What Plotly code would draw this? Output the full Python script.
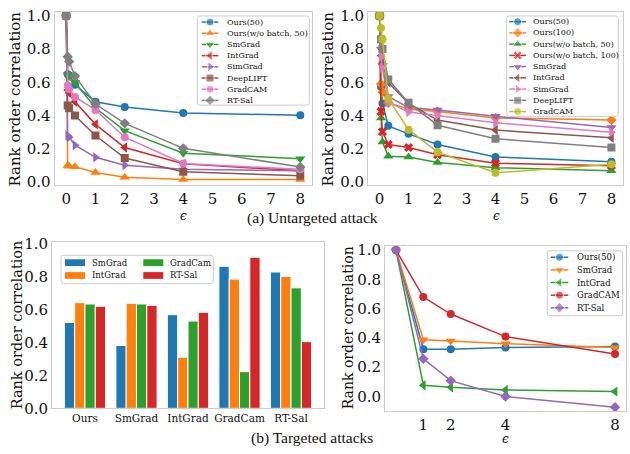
import plotly.graph_objects as go

W, H = 630, 454

# ---------------- data ----------------
eps_untargeted = [0, 0.05, 0.1, 0.3, 1, 2, 4, 8]

# (a) left panel
a1_names = ["Ours(50)", "Ours(w/o batch, 50)", "SmGrad", "IntGrad", "SimGrad", "DeepLIFT", "GradCAM", "RT-Sal"]
a1_ours50 = [1.0, 0.648, 0.64, 0.585, 0.483, 0.452, 0.415, 0.402]
a1_ours_wob50 = [1.0, 0.10, 0.095, 0.092, 0.058, 0.029, 0.016, 0.016]
a1_smgrad = [1.0, 0.645, 0.635, 0.60, 0.445, 0.309, 0.174, 0.141]
a1_intgrad = [1.0, 0.554, 0.535, 0.483, 0.347, 0.208, 0.11, 0.068]
a1_simgrad = [1.0, 0.28, 0.27, 0.222, 0.149, 0.102, 0.077, 0.068]
a1_deeplift = [1.0, 0.46, 0.444, 0.40, 0.28, 0.145, 0.062, 0.039]
a1_gradcam = [1.0, 0.58, 0.56, 0.512, 0.434, 0.27, 0.112, 0.077]
a1_rtsal = [1.0, 0.753, 0.724, 0.637, 0.469, 0.353, 0.203, 0.091]

# (a) right panel
a2_names = ["Ours(50)", "Ours(100)", "Ours(w/o batch, 50)", "Ours(w/o batch, 100)", "SmGrad",
            "IntGrad", "SimGrad", "DeepLIFT", "GradCAM"]
a2_ours50 = [1.0, 0.573, 0.473, 0.338, 0.29, 0.226, 0.151, 0.122]
a2_ours100 = [1.0, 0.589, 0.541, 0.477, 0.438, 0.425, 0.386, 0.373]
a2_ours_wob50 = [1.0, 0.386, 0.241, 0.155, 0.151, 0.118, 0.087, 0.068]
a2_ours_wob100 = [1.0, 0.425, 0.303, 0.226, 0.208, 0.164, 0.114, 0.098]
a2_smgrad = [1.0, 0.80, 0.70, 0.515, 0.448, 0.434, 0.396, 0.328]
a2_intgrad = [1.0, 0.76, 0.716, 0.599, 0.473, 0.373, 0.313, 0.266]
a2_simgrad = [1.0, 0.753, 0.686, 0.481, 0.421, 0.40, 0.357, 0.299]
a2_deeplift = [1.0, 0.859, 0.80, 0.616, 0.477, 0.342, 0.261, 0.208]
a2_gradcam = [1.0, 0.926, 0.859, 0.502, 0.315, 0.18, 0.056, 0.107]

# (b) bar panel
bar_groups = ["Ours", "SmGrad", "IntGrad", "GradCam", "RT-Sal"]
bar_names = ["SmGrad", "IntGrad", "GradCam", "RT-Sal"]
bar_smgrad = [0.522, 0.382, 0.569, 0.863, 0.828]
bar_intgrad = [0.642, 0.638, 0.311, 0.785, 0.802]
bar_gradcam = [0.634, 0.634, 0.530, 0.223, 0.732]
bar_rtsal = [0.620, 0.626, 0.583, 0.918, 0.405]

# (b) line panel
eps_targeted = [0, 1, 2, 4, 8]
b_names = ["Ours(50)", "SmGrad", "IntGrad", "GradCAM", "RT-Sal"]
b_ours50 = [1.0, 0.323, 0.323, 0.334, 0.341]
b_smgrad = [1.0, 0.387, 0.378, 0.36, 0.334]
b_intgrad = [1.0, 0.077, 0.062, 0.044, 0.033]
b_gradcam = [1.0, 0.679, 0.563, 0.409, 0.29]
b_rtsal = [1.0, 0.257, 0.108, 0.0, -0.073]

# ---------------- style ----------------
C = dict(blue="#1f77b4", orange="#ff7f0e", green="#2ca02c", red="#d62728", purple="#9467bd",
         brown="#8c564b", pink="#e377c2", grey="#7f7f7f", olive="#bcbd22")
SERIF = "DejaVu Serif, Liberation Serif, serif"
FRAME = "#cccccc"
TXT = "#111111"

a1_series = [a1_ours50, a1_ours_wob50, a1_smgrad, a1_intgrad, a1_simgrad, a1_deeplift, a1_gradcam, a1_rtsal]
a1_colors = [C["blue"], C["orange"], C["green"], C["red"], C["purple"], C["brown"], C["pink"], C["grey"]]
a1_symbols = ["circle", "triangle-up", "triangle-down", "triangle-left", "triangle-right", "square", "circle", "diamond"]

a2_series = [a2_ours50, a2_ours100, a2_ours_wob50, a2_ours_wob100, a2_smgrad, a2_intgrad, a2_simgrad, a2_deeplift, a2_gradcam]
a2_colors = [C["blue"], C["orange"], C["green"], C["red"], C["purple"], C["brown"], C["pink"], C["grey"], C["olive"]]
a2_symbols = ["circle", "diamond", "triangle-up", "x", "triangle-down", "triangle-left", "triangle-right", "square", "circle"]

bar_series = [bar_smgrad, bar_intgrad, bar_gradcam, bar_rtsal]
bar_colors = [C["blue"], C["orange"], C["green"], C["red"]]

b_series = [b_ours50, b_smgrad, b_intgrad, b_gradcam, b_rtsal]
b_colors = [C["blue"], C["orange"], C["green"], C["red"], C["purple"]]
b_symbols = ["circle", "triangle-down", "triangle-left", "circle", "diamond"]


def msize(sym):
    return 9 if sym.startswith("triangle") else 8


def xdom(x0, x1):
    return [x0 / W, x1 / W]


def ydom(y0, y1):
    return [1 - y1 / H, 1 - y0 / H]


def axis(**kw):
    d = dict(showline=True, mirror=True, linecolor=FRAME, linewidth=1, showgrid=False,
             zeroline=False, ticks="", tickfont=dict(family=SERIF, size=15, color=TXT))
    d.update(kw)
    return d


fig = go.Figure()

# (a) left
for name, ys, col, sym in zip(a1_names, a1_series, a1_colors, a1_symbols):
    fig.add_trace(go.Scatter(x=eps_untargeted, y=ys, name=name, mode="lines+markers",
                             line=dict(color=col, width=1.5), marker=dict(symbol=sym, size=msize(sym), color=col),
                             xaxis="x", yaxis="y", showlegend=False))
# (a) right
for name, ys, col, sym in zip(a2_names, a2_series, a2_colors, a2_symbols):
    fig.add_trace(go.Scatter(x=eps_untargeted, y=ys, name=name, mode="lines+markers",
                             line=dict(color=col, width=1.5), marker=dict(symbol=sym, size=msize(sym), color=col),
                             xaxis="x2", yaxis="y2", showlegend=False))
# (b) bars
for name, ys, col in zip(bar_names, bar_series, bar_colors):
    fig.add_trace(go.Bar(x=bar_groups, y=ys, name=name, marker=dict(color=col, line=dict(color="white", width=1)),
                         xaxis="x3", yaxis="y3", showlegend=False))
# (b) lines
for name, ys, col, sym in zip(b_names, b_series, b_colors, b_symbols):
    fig.add_trace(go.Scatter(x=eps_targeted, y=ys, name=name, mode="lines+markers",
                             line=dict(color=col, width=1.5), marker=dict(symbol=sym, size=msize(sym), color=col),
                             xaxis="x4", yaxis="y4", showlegend=False))

shapes = []
annotations = []


def rounded_box(x0, y0, x1, y1, r=2.5):
    path = (f"M {x0 + r},{y0} L {x1 - r},{y0} Q {x1},{y0} {x1},{y0 + r} "
            f"L {x1},{y1 - r} Q {x1},{y1} {x1 - r},{y1} L {x0 + r},{y1} "
            f"Q {x0},{y1} {x0},{y1 - r} L {x0},{y0 + r} Q {x0},{y0} {x0 + r},{y0} Z")
    shapes.append(dict(type="path", path=path, xref="x5", yref="y5",
                       line=dict(color=FRAME, width=1), fillcolor="rgba(255,255,255,0.8)", layer="below"))


def line_legend(names, colors, symbols, box, row0, dy, lx0, lx1, tx, fs):
    rounded_box(*box)
    for i, (n, c, s) in enumerate(zip(names, colors, symbols)):
        yy = row0 + i * dy
        fig.add_trace(go.Scatter(x=[lx0, (lx0 + lx1) / 2, lx1], y=[yy] * 3, mode="lines+markers",
                                 line=dict(color=c, width=1.5),
                                 marker=dict(symbol=s, size=[0, msize(s), 0], color=c),
                                 xaxis="x5", yaxis="y5", showlegend=False, hoverinfo="skip"))
        annotations.append(dict(text=n, x=tx, y=yy, xref="x5", yref="y5", xanchor="left", yanchor="middle",
                                showarrow=False, font=dict(family=SERIF, size=fs, color=TXT)))


line_legend(a1_names, a1_colors, a1_symbols, (197.3, 9.3, 309.3, 101.7), 15.6, 11.6, 201.7, 218.3, 224.5, 8)
line_legend(a2_names, a2_colors, a2_symbols, (506.7, 9.3, 618.3, 113.3), 15.2, 11.65, 509.3, 526.0, 531.2, 8)
line_legend(b_names, b_colors, b_symbols, (547.3, 252.7, 622.7, 320.0), 259.4, 13.1, 550.7, 568.3, 575.2, 8.5)

# bar legend (2 columns)
rounded_box(61, 257.3, 213.3, 286.7)
bar_leg_pos = [(65, 265.0), (65, 278.3), (143.3, 265.0), (143.3, 278.3)]
for (n, c), (lx, ly) in zip(zip(bar_names, bar_colors), bar_leg_pos):
    shapes.append(dict(type="rect", x0=lx, x1=lx + 20, y0=ly - 3.5, y1=ly + 3.5, xref="x5", yref="y5",
                       line=dict(width=0), fillcolor=c))
    annotations.append(dict(text=n, x=lx + 25, y=ly, xref="x5", yref="y5", xanchor="left", yanchor="middle",
                            showarrow=False, font=dict(family=SERIF, size=8.5, color=TXT)))

# axis titles & captions
for (x, y, fs) in [(15, 96, 15), (328, 96, 15), (17, 330, 14.5), (348, 333, 14)]:
    annotations.append(dict(text="Rank order correlation", x=x, y=y, xref="x5", yref="y5", textangle=-90,
                            showarrow=False, xanchor="center", yanchor="middle",
                            font=dict(family=SERIF, size=fs, color=TXT)))
for (x, y) in [(183, 216.5), (496, 216.5), (505, 448)]:
    annotations.append(dict(text="<i>ϵ</i>", x=x, y=y, xref="x5", yref="y5", showarrow=False,
                            xanchor="center", yanchor="middle", font=dict(family=SERIF, size=12, color=TXT)))
annotations.append(dict(text="(a) Untargeted attack", x=312, y=219, xref="x5", yref="y5", showarrow=False,
                        xanchor="center", yanchor="middle",
                        font=dict(family="Liberation Serif", size=15.5, color=TXT)))
annotations.append(dict(text="(b) Targeted attacks", x=312, y=447, xref="x5", yref="y5", showarrow=False,
                        xanchor="center", yanchor="middle",
                        font=dict(family="Liberation Serif", size=15.5, color=TXT)))

ytick = dict(tickvals=[0, 0.2, 0.4, 0.6, 0.8, 1.0], ticktext=["0.0", "0.2", "0.4", "0.6", "0.8", "1.0"])

fig.update_layout(
    width=W, height=H, margin=dict(l=0, r=0, t=0, b=0),
    paper_bgcolor="white", plot_bgcolor="rgba(0,0,0,0)",
    barmode="group", bargap=0.2, bargroupgap=0,
    xaxis=axis(domain=xdom(54.5, 312), range=[-0.4, 8.4], anchor="y", tickvals=list(range(9))),
    yaxis=axis(domain=ydom(5, 185), range=[-0.02, 1.023], anchor="x", **ytick),
    xaxis2=axis(domain=xdom(368, 623), range=[-0.4, 8.4], anchor="y2", tickvals=list(range(9))),
    yaxis2=axis(domain=ydom(5, 185), range=[-0.02, 1.023], anchor="x2", **ytick),
    xaxis3=axis(domain=xdom(52, 324), range=[-0.64, 4.64], anchor="y3", type="category",
                tickfont=dict(family=SERIF, size=10.5, color=TXT)),
    yaxis3=axis(domain=ydom(244, 416), range=[0, 1.008], anchor="x3", **ytick),
    xaxis4=axis(domain=xdom(385, 626), range=[-0.4, 8.4], anchor="y4", tickvals=[1, 2, 4, 8]),
    yaxis4=axis(domain=ydom(248, 419), range=[-0.101, 1.026], anchor="x4", **ytick),
    xaxis5=dict(domain=[0, 1], range=[0, W], anchor="y5", visible=False, fixedrange=True),
    yaxis5=dict(domain=[0, 1], range=[H, 0], anchor="x5", visible=False, fixedrange=True),
    shapes=shapes, annotations=annotations,
)

fig.write_html("out.html", config={"displayModeBar": False},
               post_script="document.body.style.margin='0';document.body.style.overflow='hidden';")
